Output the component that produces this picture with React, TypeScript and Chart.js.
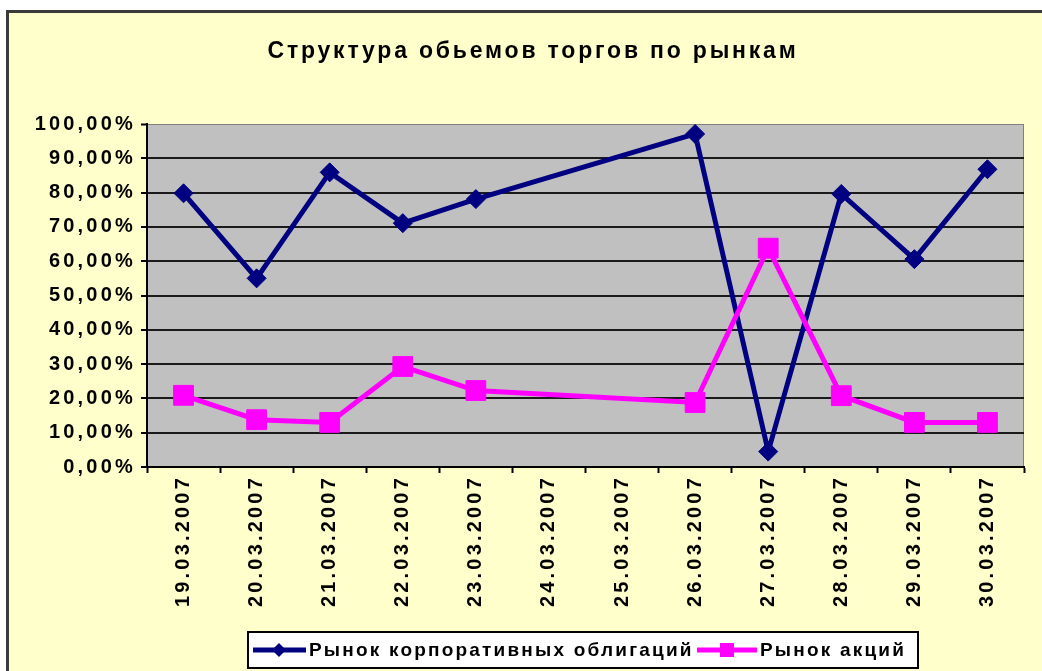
import React, { useEffect, useRef } from 'react';
import { Chart, registerables } from 'chart.js';

Chart.register(...registerables);

const dates = [
  '19.03.2007', '20.03.2007', '21.03.2007', '22.03.2007', '23.03.2007', '24.03.2007',
  '25.03.2007', '26.03.2007', '27.03.2007', '28.03.2007', '29.03.2007', '30.03.2007',
];
const corporateBonds = [79.8, 55.0, 85.9, 71.1, 78.1, null, null, 97.1, 4.5, 79.6, 60.6, 86.8];
const stocks = [20.9, 13.8, 13.0, 29.3, 22.3, null, null, 18.8, 63.8, 20.8, 13.0, 13.0];
const seriesNames = ['Рынок корпоративных облигаций', 'Рынок акций'];
const chartTitle = 'Структура обьемов торгов по рынкам';
const yMin = 0;
const yMax = 100;
const yStep = 10;

const W = 1042;
const H = 671;
const FONT = '"Liberation Sans", Arial, sans-serif';
const NAVY = '#000080';
const PINK = '#FF00FF';
const TICK_SPACING = '3.2px';

const framePlugin = {
  id: 'frame',
  beforeLayout(chart: any) {
    chart.ctx.letterSpacing = TICK_SPACING;
  },
  beforeDraw(chart: any) {
    const { ctx, chartArea: a } = chart;
    ctx.save();
    ctx.fillStyle = '#ffffff';
    ctx.fillRect(0, 0, W, H);
    ctx.fillStyle = '#FFFFCC';
    ctx.fillRect(8, 12, W, H);
    ctx.fillStyle = '#3a3a3a';
    ctx.fillRect(6, 10, W, 3);
    ctx.fillRect(6, 10, 3, H);
    ctx.fillStyle = '#C0C0C0';
    ctx.fillRect(a.left, a.top, a.right - a.left, a.bottom - a.top);
    ctx.strokeStyle = '#808080';
    ctx.lineWidth = 1;
    ctx.strokeRect(a.left + 0.5, a.top + 0.5, a.right - a.left - 1, a.bottom - a.top - 1);
    // title
    ctx.letterSpacing = '2.8px';
    ctx.fillStyle = '#000';
    ctx.font = `bold 23px ${FONT}`;
    ctx.textAlign = 'center';
    ctx.textBaseline = 'middle';
    ctx.fillText(chartTitle, 533, 52);
    ctx.restore();
    ctx.letterSpacing = TICK_SPACING;
  },
  afterDraw(chart: any) {
    const { ctx } = chart;
    const ds = chart.data.datasets;
    ctx.save();
    ctx.letterSpacing = '2.2px';
    // box
    ctx.fillStyle = '#ffffff';
    ctx.fillRect(248, 632, 670, 36);
    ctx.strokeStyle = '#000';
    ctx.lineWidth = 2;
    ctx.strokeRect(248, 632, 670, 36);
    const y = 650;
    ctx.font = `bold 19px ${FONT}`;
    ctx.textAlign = 'left';
    ctx.textBaseline = 'middle';
    // item 1
    ctx.strokeStyle = ds[0].borderColor;
    ctx.lineWidth = 5;
    ctx.beginPath();
    ctx.moveTo(253, y);
    ctx.lineTo(306, y);
    ctx.stroke();
    ctx.fillStyle = ds[0].borderColor;
    ctx.beginPath();
    ctx.moveTo(279, y - 7);
    ctx.lineTo(286, y);
    ctx.lineTo(279, y + 7);
    ctx.lineTo(272, y);
    ctx.closePath();
    ctx.fill();
    ctx.fillStyle = '#000';
    ctx.fillText(ds[0].label, 309, y + 1);
    // item 2
    ctx.strokeStyle = ds[1].borderColor;
    ctx.lineWidth = 5;
    ctx.beginPath();
    ctx.moveTo(697, y);
    ctx.lineTo(757, y);
    ctx.stroke();
    ctx.fillStyle = ds[1].borderColor;
    ctx.fillRect(720, y - 7, 14, 14);
    ctx.fillStyle = '#000';
    ctx.fillText(ds[1].label, 760, y + 1);
    ctx.restore();
  },
};

const tickFont = { family: FONT, size: 20, weight: 'bold' as const };

export default function App() {
  const ref = useRef<HTMLCanvasElement>(null);
  useEffect(() => {
    if (!ref.current) return;
    const chart = new Chart(ref.current, {
      type: 'line',
      data: {
        labels: dates,
        datasets: [
          {
            label: seriesNames[0],
            data: corporateBonds,
            borderColor: NAVY,
            backgroundColor: NAVY,
            borderWidth: 5,
            pointStyle: 'rectRot',
            pointRadius: 9.5,
            pointBorderWidth: 1,
            pointBackgroundColor: NAVY,
            pointBorderColor: NAVY,
            tension: 0,
            spanGaps: true,
            order: 2,
          },
          {
            label: seriesNames[1],
            data: stocks,
            borderColor: PINK,
            backgroundColor: PINK,
            borderWidth: 5,
            pointStyle: 'rect',
            pointRadius: 14,
            pointBorderWidth: 1,
            pointBackgroundColor: PINK,
            pointBorderColor: PINK,
            tension: 0,
            spanGaps: true,
            order: 1,
          },
        ],
      },
      options: {
        responsive: false,
        animation: false,
        devicePixelRatio: 1,
        layout: { padding: { top: 124, right: 18, left: 0, bottom: 0 } },
        plugins: {
          legend: { display: false },
          title: { display: false },
          tooltip: { enabled: false },
        },
        scales: {
          x: {
            type: 'category',
            offset: true,
            grid: {
              display: true,
              drawOnChartArea: false,
              drawTicks: true,
              tickLength: 6,
              tickColor: '#000',
              tickWidth: 2,
              offset: true,
            },
            border: { display: true, color: '#000', width: 2 },
            ticks: {
              autoSkip: false,
              minRotation: 90,
              maxRotation: 90,
              padding: 2,
              color: '#000',
              font: tickFont,
            },
            afterFit: (s: any) => {
              s.height = 204;
            },
          },
          y: {
            min: yMin,
            max: yMax,
            ticks: {
              stepSize: yStep,
              padding: 5,
              color: '#000',
              font: tickFont,
              callback: (v: any) => Number(v).toFixed(2).replace('.', ',') + '%',
            },
            grid: {
              color: (c: any) => (c.tick && c.tick.value === yMax ? '#808080' : '#1a1a1a'),
              lineWidth: (c: any) => (c.tick && c.tick.value === yMax ? 1 : 2),
              tickColor: '#000',
              tickLength: 6,
              tickWidth: 2,
            },
            border: { display: true, color: '#000', width: 2 },
            afterFit: (s: any) => {
              s.width = 147;
            },
          },
        },
      },
      plugins: [framePlugin],
    } as any);
    return () => chart.destroy();
  }, []);
  return (
    <div style={{ position: 'absolute', left: 0, top: 0, width: W, height: H }}>
      <canvas ref={ref} width={W} height={H} style={{ display: 'block', width: W, height: H }} />
    </div>
  );
}
